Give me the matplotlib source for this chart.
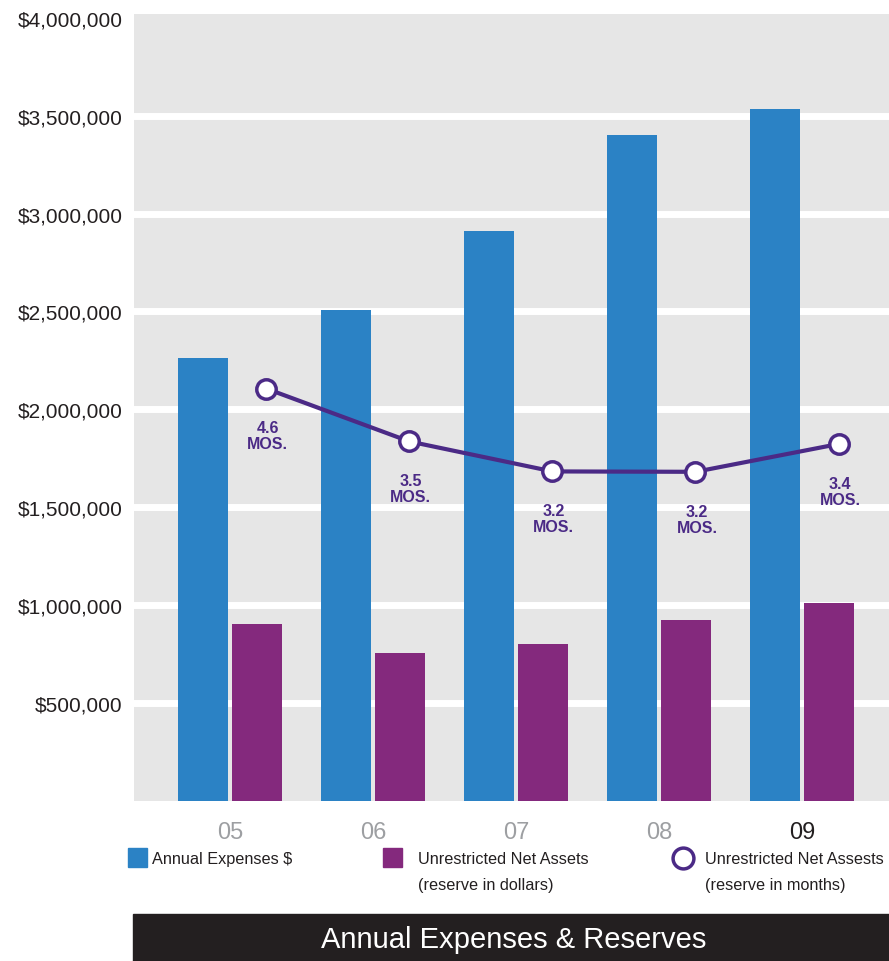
import matplotlib; matplotlib.use("Agg")
import matplotlib.pyplot as plt
from matplotlib.patches import Rectangle
from matplotlib.lines import Line2D
import numpy as np

plt.rcParams["font.family"] = ["Liberation Sans", "DejaVu Sans"]

# ---------------- data ----------------
years = ["05", "06", "07", "08", "09"]
expenses = [2260000, 2505000, 2910000, 3400000, 3535000]
net_assets = [900000, 752000, 798000, 921000, 1012000]
reserve_months = [4.6, 3.5, 3.2, 3.2, 3.4]
# height at which the months line is drawn (on the dollar axis)
reserve_line = [2105000, 1835000, 1682000, 1680000, 1822000]
yticks = [500000, 1000000, 1500000, 2000000, 2500000, 3000000, 3500000, 4000000]

BLUE = "#2b82c5"
PURPLE = "#84297d"
LINE = "#4b2a86"
GREY = "#e6e6e6"
DARK = "#231f20"

W, H = 889, 962
fig = plt.figure(figsize=(W / 100, H / 100), dpi=100)

ax = fig.add_axes([134 / W, (H - 801.5) / H, (W - 134) / W, (801.5 - 15) / H])
ax.set_facecolor(GREY)
for s in ax.spines.values():
    s.set_visible(False)

x = np.arange(len(years))
bw = 0.35
off = 0.189
for g in yticks[:-1]:
    ax.axhline(g, color="white", lw=5, zorder=1)
ax.bar(x - off, expenses, width=bw, color=BLUE, zorder=2)
ax.bar(x + off, net_assets, width=bw, color=PURPLE, zorder=2)

mx = x + 0.255
ax.plot(mx, reserve_line, color=LINE, lw=3, zorder=3,
        marker="o", ms=14, mfc="white", mec=LINE, mew=2.5)
for xi, yi, m in zip(mx, reserve_line, reserve_months):
    ax.annotate(f"{m}\nMOS.", (xi, yi), xytext=(1, -34), textcoords="offset points",
                ha="center", va="center", fontsize=11.5, fontweight="bold",
                color=LINE, linespacing=1.08, zorder=4)

ax.set_xlim(-0.671, 4.608)
ax.set_ylim(0, 4020000)
ax.set_yticks(yticks)
ax.set_yticklabels([f"${v:,.0f}" for v in yticks], fontsize=15, color=DARK)
ax.set_xticks(x)
ax.set_xticklabels(years, fontsize=17)
for i, lab in enumerate(ax.get_xticklabels()):
    lab.set_color(DARK if i == len(years) - 1 else "#9d9fa2")
ax.tick_params(axis="y", length=0, pad=8)
ax.tick_params(axis="x", length=0, pad=15)

# ---------------- legend + title band ----------------
lay = fig.add_axes([0, 0, 1, 1], zorder=-1)
lay.set_xlim(0, W)
lay.set_ylim(H, 0)
lay.axis("off")
fs = 11.7
lay.add_patch(Rectangle((128, 849), 19, 19, color=BLUE))
lay.text(152, 860, "Annual Expenses $", fontsize=fs, va="center", color=DARK)
lay.add_patch(Rectangle((383, 849), 19, 19, color=PURPLE))
lay.text(418, 860, "Unrestricted Net Assets", fontsize=fs, va="center", color=DARK)
lay.text(418, 886, "(reserve in dollars)", fontsize=fs, va="center", color=DARK)
lay.add_line(Line2D([683], [859], marker="o", ms=15, mfc="white", mec=LINE, mew=2.5))
lay.text(705, 860, "Unrestricted Net Assests", fontsize=fs, va="center", color=DARK)
lay.text(705, 886, "(reserve in months)", fontsize=fs, va="center", color=DARK)

lay.add_patch(Rectangle((133, 915), W - 133, H - 915, color=DARK))
lay.text(514, 940, "Annual Expenses & Reserves", fontsize=21, ha="center",
         va="center", color="white")

fig.savefig("out.png", dpi=100)
